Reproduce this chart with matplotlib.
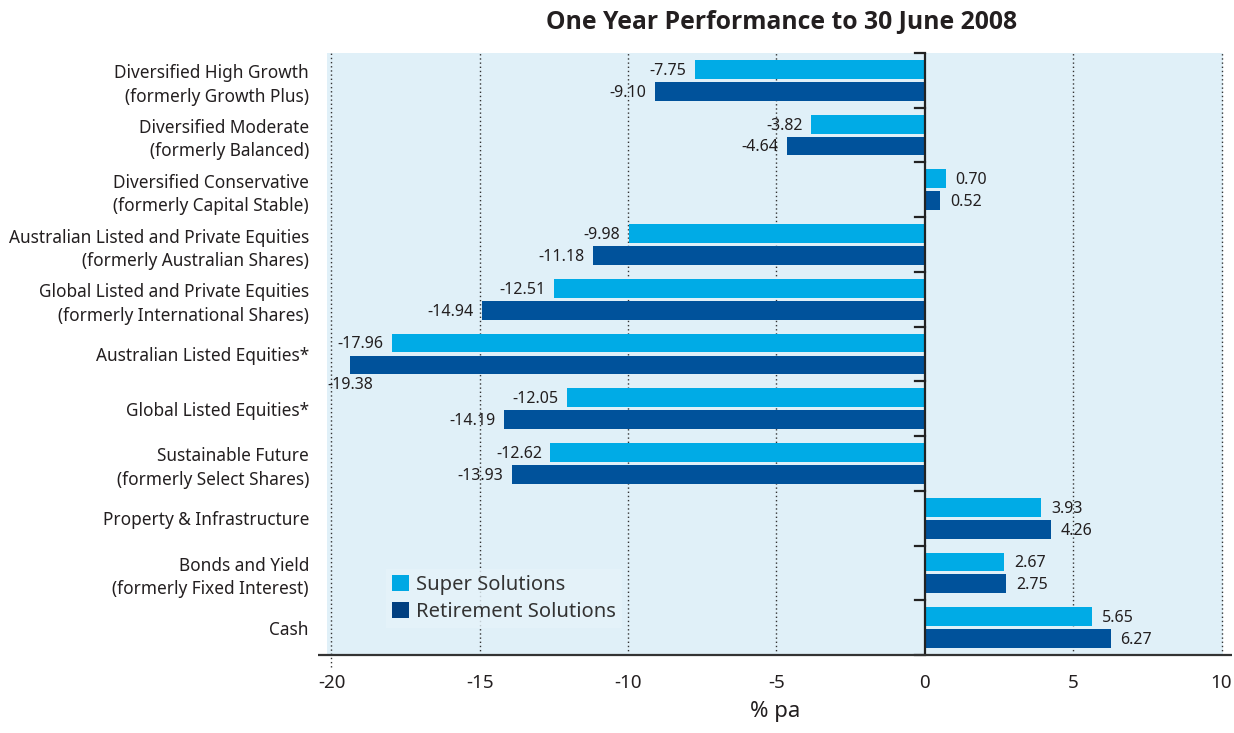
import numpy as np
import matplotlib
matplotlib.use("Agg")
import matplotlib.pyplot as plt
from matplotlib.patches import Patch

plt.rcParams['font.family'] = ['Noto Sans', 'DejaVu Sans']

categories = [
    "Diversified High Growth\n(formerly Growth Plus)",
    "Diversified Moderate\n(formerly Balanced)",
    "Diversified Conservative\n(formerly Capital Stable)",
    "Australian Listed and Private Equities\n(formerly Australian Shares)",
    "Global Listed and Private Equities\n(formerly International Shares)",
    "Australian Listed Equities*",
    "Global Listed Equities*",
    "Sustainable Future\n(formerly Select Shares)",
    "Property & Infrastructure",
    "Bonds and Yield\n(formerly Fixed Interest)",
    "Cash",
]
super_solutions = [-7.75, -3.82, 0.70, -9.98, -12.51, -17.96, -12.05, -12.62, 3.93, 2.67, 5.65]
retirement_solutions = [-9.10, -4.64, 0.52, -11.18, -14.94, -19.38, -14.19, -13.93, 4.26, 2.75, 6.27]
xticks = [-20, -15, -10, -5, 0, 5, 10]

LIGHT = '#00abe6'
DARK = '#00529b'
BG = '#e0f0f8'
TXT = '#231f20'

fig = plt.figure(figsize=(12.34, 7.33), dpi=100)
ax = fig.add_axes([327 / 1234, 78 / 733, 896 / 1234, 602 / 733])
ax.set_facecolor(BG)

y = np.arange(len(categories))
h = 0.345
off = 0.2
ax.barh(y - off, super_solutions, height=h, color=LIGHT, zorder=2)
ax.barh(y + off, retirement_solutions, height=h, color=DARK, zorder=2)

ax.set_xlim(-20.15, 10.05)
ax.set_ylim(len(categories) - 0.5, -0.5)

# dotted gridlines; the -20 one runs a little below the axis line
for xv in xticks:
    if xv == 0:
        continue
    y0 = -0.02 if xv == -20 else 0
    ax.plot([xv, xv], [y0, 1], transform=ax.get_xaxis_transform(), color='#333333',
            lw=1.0, ls=(0, (1, 2)), zorder=1, clip_on=False)

# zero line with group separator ticks
ax.axvline(0, color='#222222', lw=1.6, zorder=3)
for b in np.arange(-0.5, len(categories), 1.0):
    ax.plot([-0.32, 0], [b, b], color='#222222', lw=1.6, zorder=3, clip_on=False)

# bottom axis line, slightly wider than the plot area
ax.plot([-0.01, 1.01], [0, 0], transform=ax.transAxes, color='#333333', lw=1.6,
        zorder=4, clip_on=False, solid_capstyle='butt')

for s in ax.spines.values():
    s.set_visible(False)

ax.set_xticks(xticks)
ax.set_xticklabels([str(t) for t in xticks], fontsize=13.5, color=TXT)
ax.tick_params(axis='x', length=0, pad=14)
ax.set_yticks(y)
ax.set_yticklabels(categories, fontsize=12.4, color=TXT, linespacing=1.38)
ax.tick_params(axis='y', length=0, pad=13)
ax.set_xlabel('% pa', fontsize=16, color=TXT, labelpad=6)


def label_bar(val, yc, below=False):
    if below:
        ax.annotate(f"{val:.2f}", xy=(val, yc), xytext=(0, -14.5), textcoords='offset points',
                    ha='center', va='center', fontsize=11.5, color=TXT, zorder=5)
    elif val < 0:
        ax.annotate(f"{val:.2f}", xy=(val, yc), xytext=(-6, -1), textcoords='offset points',
                    ha='right', va='center', fontsize=11.5, color=TXT, zorder=5)
    else:
        ax.annotate(f"{val:.2f}", xy=(val, yc), xytext=(7, -1), textcoords='offset points',
                    ha='left', va='center', fontsize=11.5, color=TXT, zorder=5)


for i, (a, b) in enumerate(zip(super_solutions, retirement_solutions)):
    label_bar(a, i - off)
    label_bar(b, i + off, below=(b < -19))

handles = [Patch(facecolor='#00a8e4', edgecolor='none', label='Super Solutions'),
           Patch(facecolor='#003f80', edgecolor='none', label='Retirement Solutions')]
leg = ax.legend(handles=handles, loc='lower left', bbox_to_anchor=(0.066, 0.045),
                frameon=True, fontsize=14.5, handlelength=0.85, handleheight=0.85,
                handletextpad=0.35, labelspacing=0.35, borderpad=0.3, borderaxespad=0)
leg.get_frame().set_facecolor('#e6f3fa')
leg.get_frame().set_edgecolor('none')
leg.get_frame().set_boxstyle('square', pad=0)
for t in leg.get_texts():
    t.set_color('#333333')

fig.text(782 / 1234, 1 - 22 / 733, 'One Year Performance to 30 June 2008', ha='center', va='center',
         fontsize=17.8, fontweight='bold', family=['Open Sans', 'DejaVu Sans'], color=TXT)

fig.savefig('out.png', dpi=100, facecolor='white')
